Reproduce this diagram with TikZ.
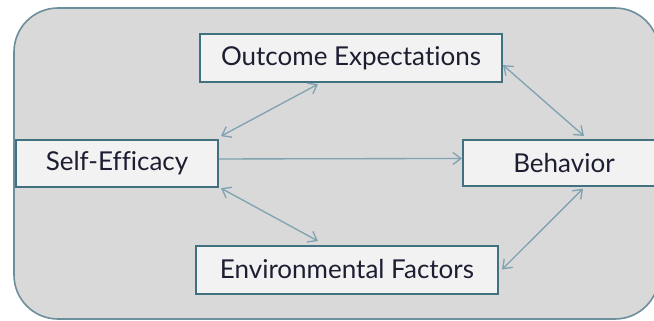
\documentclass[tikz,border=0pt]{standalone}
\usepackage{fontspec}
\setmainfont{Lato}[Ligatures=NoCommon]
\usetikzlibrary{arrows.meta, positioning}

\definecolor{panelfill}{HTML}{D9D9D9}
\definecolor{paneledge}{HTML}{6D8F9B}
\definecolor{boxfill}{HTML}{F2F2F2}
\definecolor{boxedge}{HTML}{41707F}
\definecolor{linkcol}{HTML}{7FA3B0}
\definecolor{textcol}{HTML}{1E1E33}

\tikzset{
	factor/.style={rectangle, draw=boxedge, fill=boxfill, line width=1.5pt, inner sep=0pt, text=textcol, font=\fontsize{19.5}{22}\selectfont, align=center},
	link/.style={draw=linkcol, line width=1pt, {Straight Barb[length=6pt,width=9pt]}-{Straight Barb[length=6pt,width=9pt]}},
	onelink/.style={draw=linkcol, line width=1pt, -{Straight Barb[length=6pt,width=9pt]}}
}

\begin{document}
\begin{tikzpicture}[x=0.75pt, y=-0.75pt]
		\useasboundingbox (0,0) rectangle (654,321);
		\clip (0,0) rectangle (654,321);
		
		% grey panel behind the four factors
		\draw[fill=panelfill, draw=paneledge, line width=1.2pt, rounded corners=33pt] (14,8) rectangle (659,319);
		
		\node[factor, minimum width=151.5pt, minimum height=35pt] (self) at (117,163.5) {Self-Efficacy};
		\node[factor, minimum width=151.5pt, minimum height=35pt] (beh) at (564,163) {Behavior};
		\node[factor, minimum width=226.5pt, minimum height=36pt] (out) at (351,58.5) {Outcome Expectations};
		\node[factor, minimum width=226.5pt, minimum height=36pt] (env) at (347,269.5) {Environmental Factors};
		
		\draw[link] ([xshift=1.5pt,yshift=2.25pt]self.north east) -- ([xshift=-24.75pt,yshift=-0.5pt]out.south);
		\draw[link] ([yshift=-4.9pt]out.east) -- ([xshift=15pt,yshift=2pt]beh.north);
		\draw[onelink] ([yshift=3.4pt]self.east) -- ([yshift=3.4pt]beh.west);
		\draw[link] ([xshift=1.5pt,yshift=-0.3pt]self.south east) -- ([xshift=-21.75pt,yshift=2.6pt]env.north);
		\draw[link] ([xshift=14.25pt,yshift=-1pt]beh.south) -- ([xshift=2.25pt]env.east);
	\end{tikzpicture}
\end{document}
